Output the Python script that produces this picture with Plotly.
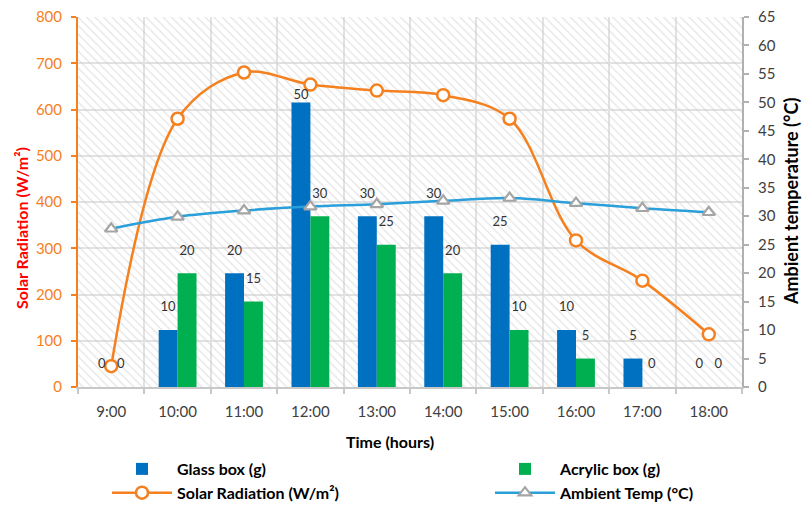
import plotly.graph_objects as go

# ---------------- data ----------------
hours = ["9:00", "10:00", "11:00", "12:00", "13:00", "14:00", "15:00", "16:00", "17:00", "18:00"]
glass_box = [0, 10, 20, 50, 30, 30, 25, 10, 5, 0]
acrylic_box = [0, 20, 15, 30, 25, 20, 10, 5, 0, 0]
solar_radiation = [45, 580, 680, 654, 641, 631, 580, 317, 230, 114]
ambient_temp = [27.8, 29.9, 31.0, 31.7, 32.1, 32.7, 33.2, 32.3, 31.4, 30.7]

left_ticks = list(range(0, 801, 100))
right_ticks = list(range(0, 66, 5))

# ---------------- styles ----------------
FONT = "Lato"
C_GLASS = "#0070C0"
C_ACR = "#00B050"
C_SOLAR = "#F5801F"
C_AMB = "#2A9FD9"
C_TRI = "#A5A5A5"
GRID = "#E2E2E2"

W, H = 803, 505
ML, MR, MT, MB = 78, 61, 17, 118
PW, PH = W - ML - MR, H - MT - MB

def px_x(px):  # pixel column -> paper x
    return (px - ML) / PW

def px_y(py):  # pixel row -> paper y
    return (H - MB - py) / PH

idx = list(range(len(hours)))
x_lo, x_hi = -0.5, len(hours) - 0.5
y_lo, y_hi = left_ticks[0], left_ticks[-1]
bargap = 0.43
half_w = (1 - bargap) / 4  # offset of each bar centre from category centre

fig = go.Figure()

# hatched plot background
fig.add_trace(go.Scatter(
    x=[x_lo, x_hi, x_hi, x_lo, x_lo], y=[y_lo, y_lo, y_hi, y_hi, y_lo],
    mode="lines", line=dict(width=0), fill="toself",
    fillcolor="rgba(0,0,0,0)",
    fillpattern=dict(shape="\\", fgcolor="#C8C8C8", size=6, solidity=0.2),
    hoverinfo="skip", showlegend=False, yaxis="y", xaxis="x"))

fig.add_trace(go.Scatter(
    x=idx, y=solar_radiation, name="Solar Radiation (W/m²)", yaxis="y",
    mode="lines+markers", line=dict(color=C_SOLAR, width=2.5, shape="spline"),
    marker=dict(symbol="circle", size=12, color="white", line=dict(color=C_SOLAR, width=2.5)),
    legend="legend", legendgroup="s", legendrank=2))

fig.add_trace(go.Bar(
    x=idx, y=glass_box, name="Glass box (g)", yaxis="y2", offsetgroup="g",
    marker=dict(color=C_GLASS, line=dict(width=0)),
    legend="legend", legendgroup="g", legendrank=1))
fig.add_trace(go.Bar(
    x=idx, y=acrylic_box, name="Acrylic box (g)", yaxis="y2", offsetgroup="a",
    marker=dict(color=C_ACR, line=dict(width=0)),
    legend="legend2", legendgroup="a", legendrank=1))

# data labels above bars (invisible marker sets the gap)
def label_sizes(vals):
    top = max(glass_box + acrylic_box)
    return [0 if v == top else 23 for v in vals]

for vals, sign in ((glass_box, -1), (acrylic_box, 1)):
    fig.add_trace(go.Scatter(
        x=[i + sign * half_w for i in idx], y=vals, yaxis="y2",
        mode="markers+text", text=[str(v) for v in vals], textposition="top center",
        textfont=dict(family=FONT, size=13, color="#333333"),
        marker=dict(size=label_sizes(vals), color="rgba(0,0,0,0)", opacity=0,
                    line=dict(width=0, color="rgba(0,0,0,0)")),
        hoverinfo="skip", showlegend=False, cliponaxis=False))

fig.add_trace(go.Scatter(
    x=idx, y=ambient_temp, name="Ambient Temp (°C)", yaxis="y2",
    mode="lines+markers", line=dict(color=C_AMB, width=2.5, shape="spline"),
    marker=dict(symbol="triangle-up", size=11, color="white", line=dict(color=C_TRI, width=2.2)),
    legend="legend2", legendgroup="t", legendrank=2))

legend_common = dict(orientation="v", yanchor="top", xanchor="left", itemwidth=60,
                     font=dict(family=FONT, size=16, color="#000000", weight="bold"),
                     tracegroupgap=0, bgcolor="rgba(0,0,0,0)", traceorder="grouped")

fig.update_layout(
    width=W, height=H,
    margin=dict(l=ML, r=MR, t=MT, b=MB, autoexpand=False),
    paper_bgcolor="white", plot_bgcolor="white",
    font=dict(family=FONT, size=14, color="#404040"),
    barmode="group", bargap=bargap, bargroupgap=0,
    showlegend=True,
    legend=dict(x=px_x(107), y=px_y(452), **legend_common),
    legend2=dict(x=px_x(490), y=px_y(452), **legend_common),
    xaxis=dict(range=[x_lo, x_hi], tickmode="array", tickvals=idx, ticktext=hours,
               showgrid=False, ticks="", showline=True, linecolor="#C8C8C8", linewidth=2,
               tickfont=dict(family=FONT, size=15, color="#404040"), ticklabelstandoff=10,
               zeroline=False,
               minor=dict(tick0=x_lo, dtick=1, showgrid=True, gridcolor=GRID, gridwidth=2,
                          ticks="outside", ticklen=5, tickcolor="#C8C8C8", tickwidth=2)),
    yaxis=dict(range=[y_lo, y_hi], tickmode="array", tickvals=left_ticks,
               showgrid=True, gridcolor=GRID, gridwidth=2, zeroline=False,
               showline=True, linecolor=C_SOLAR, linewidth=2,
               ticks="outside", ticklen=5, tickcolor=C_SOLAR, tickwidth=2,
               tickfont=dict(family=FONT, size=15, color=C_SOLAR), ticklabelstandoff=6),
    yaxis2=dict(range=[right_ticks[0], right_ticks[-1]], tickmode="array", tickvals=right_ticks,
                overlaying="y", side="right", showgrid=False, zeroline=False,
                showline=True, linecolor="#B0B0B0", linewidth=2,
                ticks="outside", ticklen=5, tickcolor="#B0B0B0", tickwidth=2,
                tickfont=dict(family=FONT, size=15, color="#404040"), ticklabelstandoff=6),
    annotations=[
        dict(text="<b>Solar Radiation (W/m²)</b>", textangle=-90, xref="paper", yref="paper",
             x=px_x(22), y=px_y(228), showarrow=False, xanchor="center", yanchor="middle",
             font=dict(family=FONT, size=16, color="#FF0000")),
        dict(text="<b>Ambient temperature (°C)</b>", textangle=-90, xref="paper", yref="paper",
             x=px_x(791), y=px_y(202), showarrow=False, xanchor="center", yanchor="middle",
             font=dict(family=FONT, size=18, color="#000000")),
        dict(text="<b>Time (hours)</b>", xref="paper", yref="paper",
             x=px_x(390), y=px_y(441), showarrow=False, xanchor="center", yanchor="middle",
             font=dict(family=FONT, size=16, color="#000000")),
    ],
)

fig.write_html("out.html", config={"displayModeBar": False},
               post_script="document.body.style.margin='0';")
